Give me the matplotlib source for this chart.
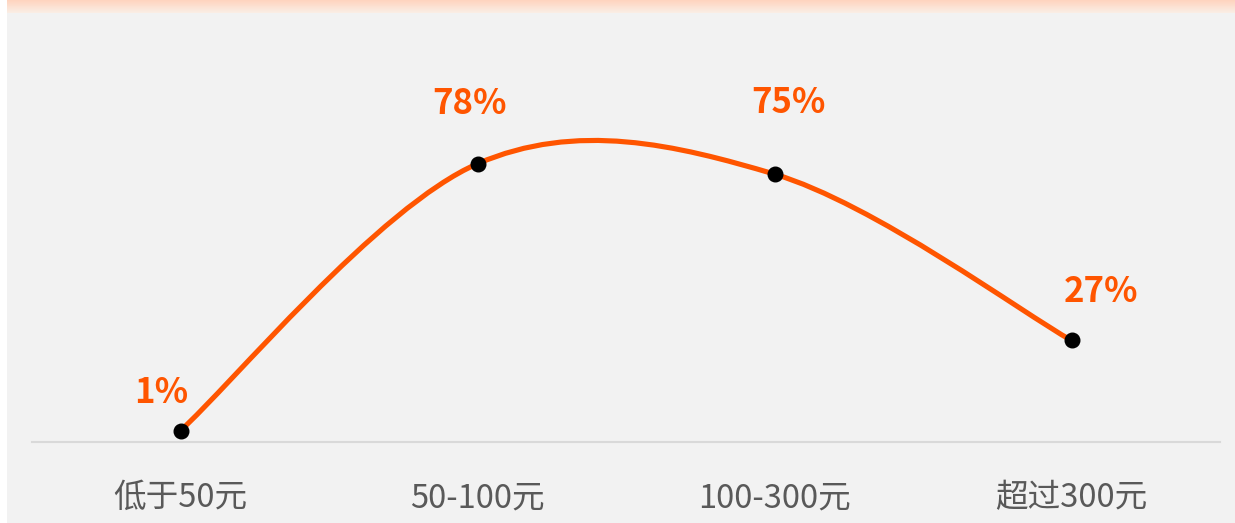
import numpy as np
import matplotlib
matplotlib.use("Agg")
import matplotlib.pyplot as plt
from matplotlib.path import Path
from matplotlib.patches import PathPatch, Rectangle

plt.rcParams["font.family"] = ["Noto Sans CJK SC", "DejaVu Sans"]

# data
categories = ["低于50元", "50-100元", "100-300元", "超过300元"]
shares = [1, 78, 75, 27]
value_labels = ["1%", "78%", "75%", "27%"]

ORANGE = "#ff5500"
PANEL = "#f2f2f2"

W, H = 1235, 523
fig = plt.figure(figsize=(W / 100, H / 100), dpi=100)
fig.patch.set_facecolor("white")

# gray panel behind the chart
fig.patches.append(
    Rectangle((7 / W, 0), 1 - 7 / W, 1, transform=fig.transFigure,
              facecolor=PANEL, edgecolor="none", zorder=-10)
)

# orange gradient strip across the top
strip = fig.add_axes([7 / W, 1 - 13 / H, 1 - 7 / W, 13 / H])
grad = np.linspace(0, 1, 64).reshape(-1, 1)
top_rgb = np.array([255, 212, 190]) / 255
bot_rgb = np.array([250, 238, 230]) / 255
img = top_rgb * (1 - grad[..., None]) + bot_rgb * grad[..., None]
strip.imshow(img, aspect="auto", extent=[0, 1, 0, 1], origin="upper")
strip.set_axis_off()

ax = fig.add_axes([32 / W, 1 - 442 / H, 1188 / W, 429 / H])
ax.set_facecolor("none")

x = np.arange(len(shares))
y = np.array(shares, dtype=float)

# smoothed line (Catmull-Rom style bezier, like an office "smooth line")
pts = np.column_stack([x, y])
ext = np.vstack([pts[0], pts, pts[-1]])
verts = [tuple(pts[0])]
codes = [Path.MOVETO]
for i in range(len(pts) - 1):
    p0, p1, p2, p3 = ext[i], ext[i + 1], ext[i + 2], ext[i + 3]
    c1 = p1 + (p2 - p0) / 6
    c2 = p2 - (p3 - p1) / 6
    verts += [tuple(c1), tuple(c2), tuple(p2)]
    codes += [Path.CURVE4] * 3
ax.add_patch(PathPatch(Path(verts, codes), facecolor="none", edgecolor=ORANGE,
                       lw=3.7, capstyle="round", zorder=2))

ax.plot(x, y, linestyle="none", marker="o", ms=10.5, color="black", zorder=3)

# label offsets (points) from each marker to the label baseline centre
label_offsets = [(-13.7, 20.2), (-5.8, 36), (10.1, 43.9), (21.6, 27.4)]
for xi, yi, txt, off in zip(x, y, value_labels, label_offsets):
    ax.annotate(txt, (xi, yi), xytext=off, textcoords="offset points",
                ha="center", va="baseline", fontsize=25, fontweight="bold",
                color=ORANGE)

ax.set_xlim(-0.5, 3.5)
ax.set_ylim(-2.3, 121.5)
ax.set_xticks(x)
ax.set_xticklabels(categories, fontsize=23.5, color="#595959")
ax.tick_params(axis="x", length=0, pad=29)
ax.set_yticks([])
for side in ["left", "right", "top"]:
    ax.spines[side].set_visible(False)
ax.spines["bottom"].set_color("#d9d9d9")
ax.spines["bottom"].set_linewidth(1.5)

fig.savefig("out.png", dpi=100)
